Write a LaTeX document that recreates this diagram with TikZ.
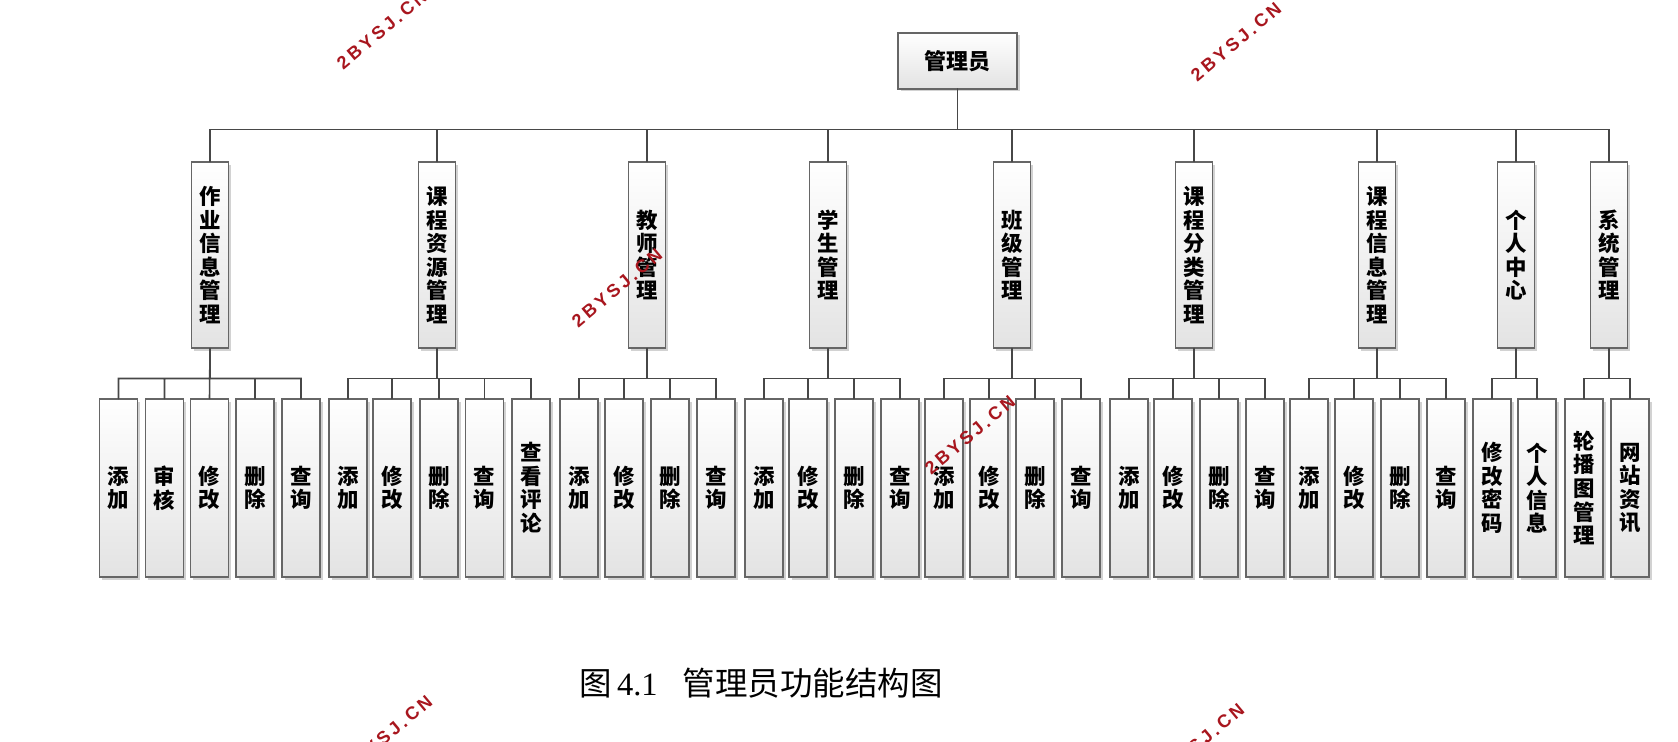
\documentclass[tikz,border=0pt]{standalone}
\usepackage{fontspec}
\setmainfont{Liberation Serif}
\newfontfamily\cjk{Noto Sans CJK SC}
\newfontfamily\markfont[LetterSpace=18]{Liberation Sans Bold}
\usetikzlibrary{shadows}
\definecolor{markred}{RGB}{168,22,30}

\begin{document}
\begin{tikzpicture}[line cap=round,
  box/.style={draw=black!60,line width=0.6pt,top color=white,bottom color=black!11,
    drop shadow={shadow xshift=0.05cm,shadow yshift=-0.05cm,fill=black!35,opacity=0.5},
    inner sep=0pt,align=center},
  topbox/.style={box,minimum width=2.38cm,minimum height=1.12cm,font=\cjk\bfseries\fontsize{12.5}{13}\selectfont},
  midbox/.style={box,minimum width=0.74cm,minimum height=3.72cm,font=\cjk\bfseries\fontsize{12.2}{13.4}\selectfont},
  leafbox/.style={box,minimum width=0.76cm,minimum height=3.56cm,font=\cjk\bfseries\fontsize{12.2}{13.4}\selectfont},
  link/.style={draw=black!72,line width=0.9pt},
  wmark/.style={rotate=40,text=markred,font=\markfont\fontsize{10.3}{11}\selectfont}]
\useasboundingbox (0,0) rectangle (33.56,-14.84);

% root
\node[topbox] (admin) at (19.15,-1.22) {管理员};

% second level
\node[midbox] (hw)  at (4.20,-5.10)  {作\\业\\信\\息\\管\\理};
\node[midbox] (res) at (8.74,-5.10)  {课\\程\\资\\源\\管\\理};
\node[midbox] (tea) at (12.94,-5.10) {教\\师\\管\\理};
\node[midbox] (stu) at (16.56,-5.10) {学\\生\\管\\理};
\node[midbox] (cls) at (20.24,-5.10) {班\\级\\管\\理};
\node[midbox] (cat) at (23.88,-5.10) {课\\程\\分\\类\\管\\理};
\node[midbox] (crs) at (27.54,-5.10) {课\\程\\信\\息\\管\\理};
\node[midbox] (me)  at (30.32,-5.10) {个\\人\\中\\心};
\node[midbox] (sys) at (32.18,-5.10) {系\\统\\管\\理};

\draw[link] (admin.south) -- ++(0,-0.8) -| (hw.north);
\draw[link] (admin.south) -- ++(0,-0.8) -| (res.north);
\draw[link] (admin.south) -- ++(0,-0.8) -| (tea.north);
\draw[link] (admin.south) -- ++(0,-0.8) -| (stu.north);
\draw[link] (admin.south) -- ++(0,-0.8) -| (cls.north);
\draw[link] (admin.south) -- ++(0,-0.8) -| (cat.north);
\draw[link] (admin.south) -- ++(0,-0.8) -| (crs.north);
\draw[link] (admin.south) -- ++(0,-0.8) -| (me.north);
\draw[link] (admin.south) -- ++(0,-0.8) -| (sys.north);

% third level
\node[leafbox] (hw1) at (2.37,-9.76) {添\\加};
\node[leafbox] (hw2) at (3.29,-9.76) {审\\核};
\node[leafbox] (hw3) at (4.19,-9.76) {修\\改};
\node[leafbox] (hw4) at (5.10,-9.76) {删\\除};
\node[leafbox] (hw5) at (6.02,-9.76) {查\\询};

\node[leafbox] (res1) at (6.96,-9.76)  {添\\加};
\node[leafbox] (res2) at (7.84,-9.76)  {修\\改};
\node[leafbox] (res3) at (8.78,-9.76)  {删\\除};
\node[leafbox] (res4) at (9.69,-9.76)  {查\\询};
\node[leafbox] (res5) at (10.62,-9.76) {查\\看\\评\\论};

\node[leafbox] (tea1) at (11.58,-9.76) {添\\加};
\node[leafbox] (tea2) at (12.48,-9.76) {修\\改};
\node[leafbox] (tea3) at (13.40,-9.76) {删\\除};
\node[leafbox] (tea4) at (14.32,-9.76) {查\\询};

\node[leafbox] (stu1) at (15.28,-9.76) {添\\加};
\node[leafbox] (stu2) at (16.16,-9.76) {修\\改};
\node[leafbox] (stu3) at (17.08,-9.76) {删\\除};
\node[leafbox] (stu4) at (18.00,-9.76) {查\\询};

\node[leafbox] (cls1) at (18.88,-9.76) {添\\加};
\node[leafbox] (cls2) at (19.78,-9.76) {修\\改};
\node[leafbox] (cls3) at (20.70,-9.76) {删\\除};
\node[leafbox] (cls4) at (21.62,-9.76) {查\\询};

\node[leafbox] (cat1) at (22.58,-9.76) {添\\加};
\node[leafbox] (cat2) at (23.46,-9.76) {修\\改};
\node[leafbox] (cat3) at (24.38,-9.76) {删\\除};
\node[leafbox] (cat4) at (25.30,-9.76) {查\\询};

\node[leafbox] (crs1) at (26.18,-9.76) {添\\加};
\node[leafbox] (crs2) at (27.08,-9.76) {修\\改};
\node[leafbox] (crs3) at (28.00,-9.76) {删\\除};
\node[leafbox] (crs4) at (28.92,-9.76) {查\\询};

\node[leafbox] (me1) at (29.84,-9.76) {修\\改\\密\\码};
\node[leafbox] (me2) at (30.74,-9.76) {个\\人\\信\\息};

\node[leafbox] (sys1) at (31.68,-9.76) {轮\\播\\图\\管\\理};
\node[leafbox] (sys2) at (32.60,-9.76) {网\\站\\资\\讯};

\draw[link] (hw.south) -- ++(0,-0.6) -| (hw1.north) (hw.south) -- ++(0,-0.6) -| (hw2.north)
  (hw.south) -- (hw3.north) (hw.south) -- ++(0,-0.6) -| (hw4.north) (hw.south) -- ++(0,-0.6) -| (hw5.north);
\draw[link] (res.south) -- ++(0,-0.6) -| (res1.north) (res.south) -- ++(0,-0.6) -| (res2.north)
  (res.south) -- ++(0,-0.6) -| (res3.north) (res.south) -- ++(0,-0.6) -| (res4.north) (res.south) -- ++(0,-0.6) -| (res5.north);
\draw[link] (tea.south) -- ++(0,-0.6) -| (tea1.north) (tea.south) -- ++(0,-0.6) -| (tea2.north)
  (tea.south) -- ++(0,-0.6) -| (tea3.north) (tea.south) -- ++(0,-0.6) -| (tea4.north);
\draw[link] (stu.south) -- ++(0,-0.6) -| (stu1.north) (stu.south) -- ++(0,-0.6) -| (stu2.north)
  (stu.south) -- ++(0,-0.6) -| (stu3.north) (stu.south) -- ++(0,-0.6) -| (stu4.north);
\draw[link] (cls.south) -- ++(0,-0.6) -| (cls1.north) (cls.south) -- ++(0,-0.6) -| (cls2.north)
  (cls.south) -- ++(0,-0.6) -| (cls3.north) (cls.south) -- ++(0,-0.6) -| (cls4.north);
\draw[link] (cat.south) -- ++(0,-0.6) -| (cat1.north) (cat.south) -- ++(0,-0.6) -| (cat2.north)
  (cat.south) -- ++(0,-0.6) -| (cat3.north) (cat.south) -- ++(0,-0.6) -| (cat4.north);
\draw[link] (crs.south) -- ++(0,-0.6) -| (crs1.north) (crs.south) -- ++(0,-0.6) -| (crs2.north)
  (crs.south) -- ++(0,-0.6) -| (crs3.north) (crs.south) -- ++(0,-0.6) -| (crs4.north);
\draw[link] (me.south) -- ++(0,-0.6) -| (me1.north) (me.south) -- ++(0,-0.6) -| (me2.north);
\draw[link] (sys.south) -- ++(0,-0.6) -| (sys1.north) (sys.south) -- ++(0,-0.6) -| (sys2.north);

% caption
\node[font=\fontsize{18.5}{22}\selectfont] (cap) at (15.22,-13.66) {{\cjk 图}\,4.1\hspace{0.5cm}{\cjk 管理员功能结构图}};

% watermarks
\node[wmark] (w1) at (7.64,-0.60)  {2BYSJ.CN};
\node[wmark] (w2) at (24.72,-0.84) {2BYSJ.CN};
\node[wmark] (w3) at (12.34,-5.76) {2BYSJ.CN};
\node[wmark] (w4) at (19.40,-8.70) {2BYSJ.CN};
\node[wmark] (w5) at (7.74,-14.70) {2BYSJ.CN};
\node[wmark] (w6) at (23.98,-14.86) {2BYSJ.CN};
\end{tikzpicture}
\end{document}
